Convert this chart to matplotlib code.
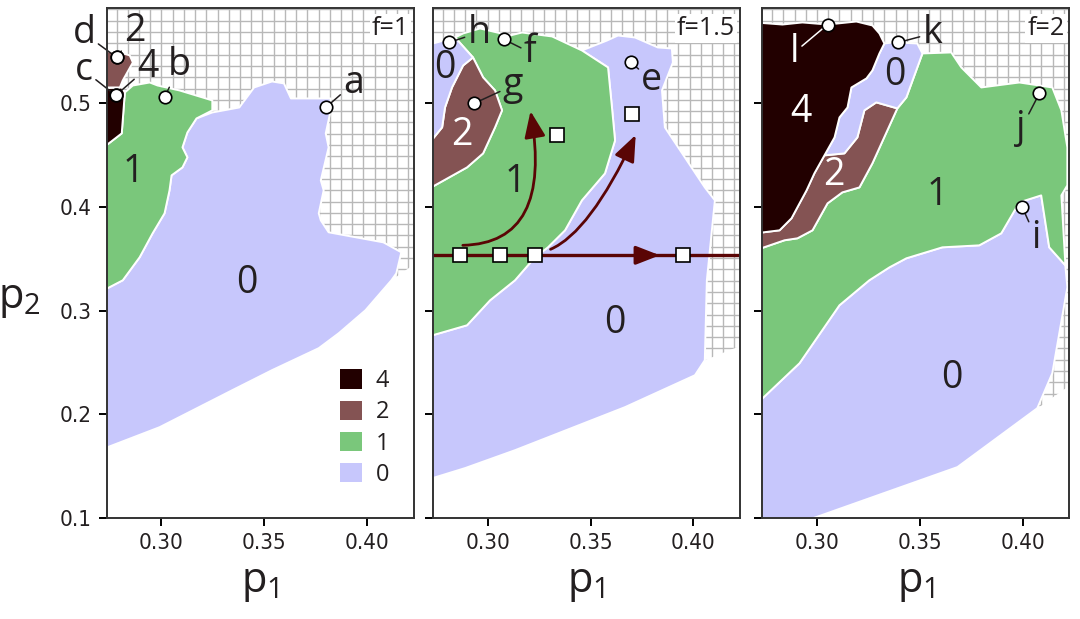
import numpy as np
import matplotlib.pyplot as plt
from matplotlib import font_manager
from matplotlib.patches import Polygon, Patch, FancyArrowPatch

# class colours
C4, C2, C1, C0 = '#220000', '#845353', '#7ac77b', '#c7c7fc'
ARROW = '#5a0505'
INK = '#231f20'

# ---------------- f = 1 ----------------
f1_black = [(0.27, 0.5145), (0.2807, 0.5154), (0.2822, 0.5106), (0.2807, 0.4711), (0.27, 0.4547)]
f1_brown = [(0.27, 0.5511), (0.2798, 0.5492), (0.2846, 0.5463), (0.2861, 0.5395), (0.2812, 0.5222),
            (0.2798, 0.5154), (0.27, 0.5154)]
f1_green_top = [(0.27, 0.4547), (0.2807, 0.4711), (0.2822, 0.5106), (0.2861, 0.5173), (0.2943, 0.5202),
                (0.2981, 0.5173), (0.3088, 0.5125), (0.3247, 0.5029), (0.3247, 0.4933)]
f1_edge_10 = [(0.3170, 0.4855), (0.3126, 0.4720), (0.3102, 0.4576), (0.3126, 0.4480), (0.3102, 0.4383),
              (0.3049, 0.4306), (0.3039, 0.4161), (0.3015, 0.3940), (0.2957, 0.3747), (0.2894, 0.3516),
              (0.2812, 0.3294), (0.27, 0.3178)]
f1_blue_bottom = [(0.27, 0.1655), (0.2991, 0.1877), (0.3344, 0.2234), (0.3537, 0.2427), (0.3764, 0.2639),
                  (0.3861, 0.2783), (0.3991, 0.3005), (0.4117, 0.3294)]
f1_blue_rest = [(0.4141, 0.3361), (0.4165, 0.3564), (0.4078, 0.3660), (0.3812, 0.3757), (0.3774, 0.3872),
                (0.3764, 0.3940), (0.3788, 0.4161), (0.3774, 0.4258), (0.3812, 0.4576), (0.3798, 0.4711),
                (0.3822, 0.4933), (0.3822, 0.5048), (0.3629, 0.5048), (0.3595, 0.5193), (0.3537, 0.5212),
                (0.3450, 0.5154), (0.3378, 0.4961), (0.3247, 0.4913)]
f1_grid_edge = 0.355

f1_marks = ['a', 'b', 'c', 'd', '2', '4']
f1_mark_xy = [(0.3798, 0.4961), (0.3015, 0.5058), (0.2778, 0.5077), (0.2783, 0.5443), (0.2783, 0.5443),
              (0.2778, 0.5077)]
f1_mark_text = [(0.3933, 0.5193), (0.3088, 0.5366), (0.2624, 0.5318), (0.2624, 0.5675), (0.2870, 0.5694),
                (0.2933, 0.5347)]
f1_regions = ['1', '0']
f1_region_xy = [(0.2861, 0.4335), (0.3416, 0.3265)]
f1_region_col = [INK, INK]

# ---------------- f = 1.5 ----------------
f2_blue_small_top = [(0.27, 0.556), (0.2842, 0.5636)]
f2_edge_02 = [(0.2929, 0.5443), (0.2881, 0.5366), (0.2827, 0.5154), (0.2793, 0.4961), (0.2779, 0.4769),
              (0.27, 0.4576)]
f2_edge_21 = [(0.2929, 0.5443), (0.2978, 0.5251), (0.3036, 0.5125), (0.3070, 0.4933), (0.3036, 0.4769),
              (0.2978, 0.4518), (0.2900, 0.4383), (0.27, 0.4161)]
f2_green_top = [(0.2842, 0.5636), (0.2881, 0.5675), (0.2963, 0.5723), (0.3109, 0.5655), (0.3167, 0.5684),
                (0.3313, 0.5646), (0.3458, 0.5511)]
f2_edge_10 = [(0.3585, 0.5347), (0.3604, 0.4961), (0.3619, 0.4643), (0.3570, 0.4325), (0.3458, 0.4065),
              (0.3376, 0.3776), (0.3293, 0.3612), (0.3230, 0.3516), (0.3133, 0.3294), (0.3012, 0.3101),
              (0.2900, 0.2860), (0.27, 0.2745)]
f2_blue_bottom = [(0.27, 0.1366), (0.2890, 0.1482), (0.3133, 0.1655), (0.3667, 0.2070), (0.4007, 0.2378),
                  (0.4055, 0.2523)]
f2_blue_rest = [(0.4065, 0.3294), (0.4104, 0.4065), (0.4055, 0.4190), (0.3861, 0.4769), (0.3847, 0.5125),
                (0.3900, 0.5395), (0.3895, 0.5530), (0.3827, 0.5540), (0.3716, 0.5636), (0.3633, 0.5655),
                (0.3580, 0.5607), (0.3458, 0.5511)]
f2_grid_edge = 0.272

f2_marks = ['h', 'f', 'g', 'e']
f2_mark_xy = [(0.2813, 0.5588), (0.3080, 0.5617), (0.2934, 0.5000), (0.3696, 0.5395)]
f2_mark_text = [(0.2958, 0.5684), (0.3206, 0.5492), (0.3123, 0.5173), (0.3798, 0.5222)]
f2_regions = ['0', '2', '1', '0']
f2_region_xy = [(0.2793, 0.5337), (0.2876, 0.4692), (0.3133, 0.4239), (0.3619, 0.2880)]
f2_region_col = [INK, 'white', INK, INK]

# trajectory on the f=1.5 panel
traj_p2 = 0.3535
traj_p1 = [0.2866, 0.3060, 0.3230, 0.3949]
end_p1 = [0.3337, 0.3701]
end_p2 = [0.4692, 0.4894]
curve_start = [(0.2866, 0.3631), (0.3293, 0.3583)]
curve_end = [(0.3206, 0.4952), (0.3725, 0.4720)]
curve_angles = [(0, 100), (20, 65)]

# ---------------- f = 2 ----------------
f3_black_top = [(0.27, 0.5781), (0.2832, 0.5761), (0.2929, 0.5781), (0.3051, 0.5761), (0.3191, 0.5790),
                (0.3269, 0.5752), (0.3303, 0.5675), (0.3327, 0.5578)]
f3_edge_40 = [(0.3303, 0.5482), (0.3269, 0.5318), (0.3240, 0.5241), (0.3167, 0.5154), (0.3148, 0.4961),
              (0.3109, 0.4865), (0.3085, 0.4672), (0.3036, 0.4499)]
f3_edge_42 = [(0.2987, 0.4325), (0.2949, 0.4161), (0.2915, 0.4036), (0.2876, 0.3892), (0.2818, 0.3776),
              (0.27, 0.3747)]
f3_blue_small_top = [(0.3327, 0.5578), (0.3366, 0.5588), (0.3395, 0.5588), (0.3487, 0.5578), (0.3512, 0.5482)]
f3_edge_01 = [(0.3434, 0.5058), (0.3390, 0.4952)]
f3_edge_02 = [(0.3288, 0.5010), (0.3230, 0.4933), (0.3196, 0.4672), (0.3133, 0.4518), (0.3036, 0.4499)]
f3_edge_21 = [(0.3269, 0.4422), (0.3206, 0.4190), (0.3123, 0.4142), (0.3051, 0.4036), (0.2978, 0.3776),
              (0.2905, 0.3699), (0.2842, 0.3680), (0.27, 0.3583)]
f3_green_top = [(0.3652, 0.5492), (0.3701, 0.5347), (0.3798, 0.5154), (0.3983, 0.5202), (0.4143, 0.5154),
                (0.4187, 0.4933), (0.4216, 0.4576), (0.4216, 0.4210), (0.4187, 0.4113), (0.4206, 0.3458)]
f3_edge_10 = [(0.4206, 0.3439), (0.4128, 0.3612), (0.4089, 0.4113), (0.3983, 0.4046), (0.3895, 0.3747),
              (0.3788, 0.3631), (0.3609, 0.3612), (0.3434, 0.3506), (0.3352, 0.3419), (0.3254, 0.3294),
              (0.3109, 0.3053), (0.2915, 0.2494), (0.27, 0.2089)]
f3_blue_bottom = [(0.27, 0.09), (0.284, 0.09), (0.3682, 0.1492), (0.4070, 0.2060)]
f3_blue_rest = [(0.4143, 0.2398), (0.4216, 0.3227)]
f3_grid_edge = 0.238

f3_marks = ['l', 'k', 'j', 'i']
f3_mark_xy = [(0.3051, 0.5761), (0.3395, 0.5588), (0.4080, 0.5096), (0.3997, 0.3998)]
f3_mark_text = [(0.2890, 0.5492), (0.3560, 0.5675), (0.3992, 0.4759), (0.4065, 0.3699)]
f3_mark_col = ['white', INK, INK, INK]
f3_regions = ['4', '2', '0', '1', '0']
f3_region_xy = [(0.2924, 0.4913), (0.3080, 0.4306), (0.3376, 0.5270), (0.3585, 0.4113), (0.3657, 0.2349)]
f3_region_col = ['white', 'white', INK, INK, INK]

f_values = ['f=1', 'f=1.5', 'f=2']
legend_labels = ['4', '2', '1', '0']
legend_colors = [C4, C2, C1, C0]

# ---- build the polygons from the shared edges ----
panels = [
    dict(polys=[(f1_blue_bottom + f1_blue_rest + f1_edge_10, C0),
                (f1_green_top + f1_edge_10, C1),
                (f1_black, C4), (f1_brown, C2)],
         bottom=f1_blue_bottom, gedge=f1_grid_edge,
         marks=f1_marks, mxy=f1_mark_xy, mtxt=f1_mark_text, mcol=[INK] * 6,
         regions=f1_regions, rxy=f1_region_xy, rcol=f1_region_col),
    dict(polys=[(f2_blue_bottom + f2_blue_rest + f2_edge_10, C0),
                (f2_green_top + f2_edge_10 + f2_edge_21[::-1], C1),
                (f2_edge_02 + f2_edge_21[::-1], C2),
                (f2_blue_small_top + f2_edge_02, C0)],
         bottom=f2_blue_bottom, gedge=f2_grid_edge,
         marks=f2_marks, mxy=f2_mark_xy, mtxt=f2_mark_text, mcol=[INK] * 4,
         regions=f2_regions, rxy=f2_region_xy, rcol=f2_region_col),
    dict(polys=[(f3_edge_10 + f3_blue_bottom + f3_blue_rest, C0),
                (f3_blue_small_top[-1:] + f3_green_top + f3_edge_10 + f3_edge_21[::-1] + f3_edge_01[::-1], C1),
                (f3_edge_02[::-1] + f3_edge_01[-1:] + f3_edge_21 + f3_edge_42[::-1], C2),
                (f3_blue_small_top + f3_edge_01 + f3_edge_02 + f3_edge_40[-2::-1], C0),
                (f3_black_top + f3_edge_40 + f3_edge_42, C4)],
         bottom=f3_blue_bottom, gedge=f3_grid_edge,
         marks=f3_marks, mxy=f3_mark_xy, mtxt=f3_mark_text, mcol=f3_mark_col,
         regions=f3_regions, rxy=f3_region_xy, rcol=f3_region_col),
]

names = {f.name for f in font_manager.fontManager.ttflist}
tickfont = 'Liberation Sans Narrow' if 'Liberation Sans Narrow' in names else 'DejaVu Sans'
plt.rcParams['font.family'] = ['Open Sans', 'DejaVu Sans']
plt.rcParams['mathtext.default'] = 'regular'

fig = plt.figure(figsize=(10.8, 6.19), dpi=100)
lefts = [0.099, 0.401, 0.706]
axes = [fig.add_axes([l, 0.163, 0.284, 0.824]) for l in lefts]

for i, (ax, p) in enumerate(zip(axes, panels)):
    ax.set_xlim(0.2735, 0.4225)
    ax.set_ylim(0.1, 0.592)

    # mesh of the scanned parameter space
    gpoly = Polygon([(0.27, 0.6), (0.43, 0.6), (0.43, p['gedge'])] + p['bottom'][::-1],
                    transform=ax.transData)
    vl = ax.vlines(np.arange(0.2782 - 0.00545, 0.43, 0.00545), 0.09, 0.6, color='#b8b8b8', lw=1.0, zorder=0)
    hl = ax.hlines(np.arange(0.5797 + 0.0109, 0.09, -0.0109), 0.27, 0.43, color='#b8b8b8', lw=1.0, zorder=0)
    vl.set_clip_path(gpoly)
    hl.set_clip_path(gpoly)

    for pts, col in p['polys']:
        ax.add_patch(Polygon(pts, closed=True, facecolor=col, edgecolor='white', lw=1.4,
                             joinstyle='round', zorder=2))

    for txt, xy, col in zip(p['regions'], p['rxy'], p['rcol']):
        ax.text(xy[0], xy[1], txt, fontsize=27, color=col, ha='center', va='center', zorder=5)

    for txt, xy, txy, col in zip(p['marks'], p['mxy'], p['mtxt'], p['mcol']):
        ax.annotate(txt, xy=xy, xytext=txy, fontsize=27, color=col, ha='center', va='center',
                    annotation_clip=False, zorder=6,
                    arrowprops=dict(arrowstyle='-', color=col, lw=1.1, shrinkA=0, shrinkB=4))
        ax.plot(xy[0], xy[1], 'o', ms=9, mfc='white', mec='black', mew=1.2, zorder=7, clip_on=False)

    ax.text(0.985, 0.985, f_values[i], transform=ax.transAxes, ha='right', va='top', fontsize=18,
            color=INK, zorder=8, bbox=dict(facecolor='white', edgecolor='none', pad=1.5))

    ax.set_xticks([0.30, 0.35, 0.40])
    ax.set_xticklabels(['0.30', '0.35', '0.40'])
    ax.set_yticks([0.1, 0.2, 0.3, 0.4, 0.5])
    ax.set_yticklabels(['0.1', '0.2', '0.3', '0.4', '0.5'])
    ax.tick_params(direction='out', length=6, width=1.4, labelsize=16, labelfontfamily=tickfont,
                   labelcolor=INK, pad=5)
    for lbl in ax.get_xticklabels() + ax.get_yticklabels():
        lbl.set_fontstretch('condensed')
    if i > 0:
        ax.tick_params(labelleft=False)
    for s in ax.spines.values():
        s.set_color('#333333')
        s.set_linewidth(1.4)
        s.set_zorder(10)
    ax.set_xlabel('$p_1$', fontsize=30, color=INK, labelpad=6)

axes[0].set_ylabel('$p_2$', fontsize=30, color=INK, rotation=0, ha='center', va='center')
axes[0].yaxis.set_label_coords(-0.285, 0.43)

handles = [Patch(facecolor=c, edgecolor='none') for c in legend_colors]
axes[0].legend(handles, legend_labels, loc='lower right', bbox_to_anchor=(0.99, 0.02), frameon=False,
               fontsize=17, handlelength=0.9, handleheight=0.9, labelspacing=0.3, handletextpad=0.6,
               labelcolor=INK)

# trajectory and arrows (f=1.5)
ax = axes[1]
ax.axhline(traj_p2, color=ARROW, lw=2.4, zorder=4)
ax.annotate('', xy=(0.3850, traj_p2), xytext=(0.372, traj_p2),
            arrowprops=dict(arrowstyle='-|>,head_length=0.9,head_width=0.35', mutation_scale=16,
                            color=ARROW, lw=2.4), zorder=4)
for s, e, (aa, ab) in zip(curve_start, curve_end, curve_angles):
    ax.add_patch(FancyArrowPatch(s, e, connectionstyle=f'angle3,angleA={aa},angleB={ab}',
                                 arrowstyle='-|>,head_length=1.0,head_width=0.4', mutation_scale=16,
                                 color=ARROW, lw=2.0, zorder=4))
ax.plot(traj_p1, [traj_p2] * len(traj_p1), 's', ms=10, mfc='white', mec='black', mew=1.2, zorder=7)
ax.plot(end_p1, end_p2, 's', ms=10, mfc='white', mec='black', mew=1.2, zorder=7)

fig.savefig('out.png', dpi=100)
